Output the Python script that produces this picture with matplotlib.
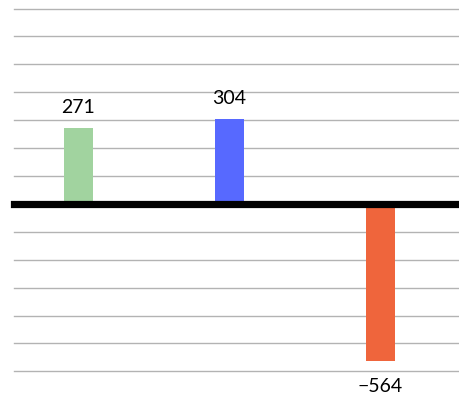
import matplotlib
matplotlib.use("Agg")
import matplotlib.pyplot as plt

categories = ["A", "B", "C"]
values = [271, 304, -564]
colors = ["#A1D39F", "#5769FF", "#EF653C"]
grid_ticks = [-600, -500, -400, -300, -200, -100, 100, 200, 300, 400, 500, 600, 700]

W, H = 459, 395
fig = plt.figure(figsize=(W / 100, H / 100), dpi=100)
ax = fig.add_axes([0, 0, 1, 1])
ax.set_axis_off()

px = 150.75
x0 = 78.5
ax.set_xlim(-x0 / px, (W - x0) / px)
ax.set_ylim(-684.7, 730.5)

xmin_frac = 14 / W
for t in grid_ticks:
    ax.axhline(t, xmin=xmin_frac, xmax=1, color="#b3b3b3", lw=1.0, zorder=1)
ax.axhline(0, xmin=xmin_frac, xmax=1, color="black", lw=5.2, zorder=3)

xs = list(range(len(categories)))
ax.bar(xs, values, width=29 / px, color=colors, zorder=2)

for x, v in zip(xs, values):
    if v >= 0:
        ax.annotate(str(v), (x, v), xytext=(0, 9), textcoords="offset points",
                    ha="center", va="bottom", fontsize=14, family="Lato")
    else:
        ax.annotate(str(v).replace("-", "\u2212"), (x, v), xytext=(0, -12),
                    textcoords="offset points", ha="center", va="top",
                    fontsize=14, family="Lato")

fig.savefig("out.png", dpi=100)
